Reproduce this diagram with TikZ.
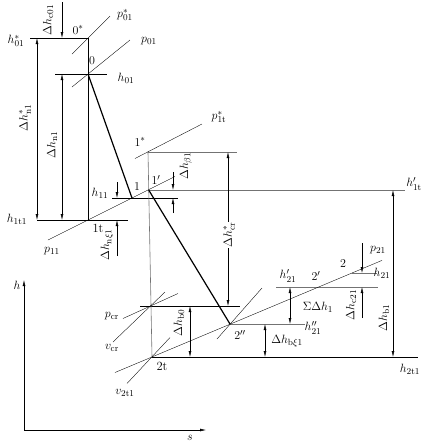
\documentclass[tikz,border=0pt]{standalone}
\usepackage{amsmath,amssymb}
\usepackage{tikz}
\usetikzlibrary{arrows.meta}

\begin{document}
\begin{tikzpicture}[
  x=1pt, y=-1pt,
  every node/.style={font=\fontsize{12.5}{14}\selectfont, inner sep=1pt},
  proc/.style={line width=1.2pt},
  ln/.style={line width=0.45pt},
  gl/.style={line width=0.6pt, black!55},
  iso/.style={line width=0.35pt},
  dim/.style={line width=0.45pt, -{Latex[length=6pt,width=2.8pt]}},
  dimb/.style={line width=0.45pt, {Latex[length=6pt,width=2.8pt]}-{Latex[length=6pt,width=2.8pt]}},
  vlbl/.style={rotate=90}
]
  \useasboundingbox (0,0) rectangle (434,445);

  \coordinate (p0s) at (88,38);
  \coordinate (p0) at (88,74);
  \coordinate (p1t) at (88,220);
  \coordinate (p1) at (132,198);
  \coordinate (p1p) at (148.7,190);
  \coordinate (p1s) at (148,152);
  \coordinate (pcr) at (151,306);
  \coordinate (p2t) at (152,357);
  \coordinate (p2pp) at (230,324);
  \coordinate (p2p) at (318.7,287);
  \coordinate (p2) at (352,273);

  \coordinate (cA) at (37,0);
  \coordinate (cB) at (62,0);
  \coordinate (cC) at (117,0);
  \coordinate (cD) at (173,0);
  \coordinate (cE) at (228,0);
  \coordinate (cF) at (190,0);
  \coordinate (cG) at (265,0);
  \coordinate (cH) at (290,0);
  \coordinate (cI) at (362,0);
  \coordinate (cJ) at (393,0);

  \coordinate (mTop) at (0,2);
  \coordinate (m11) at (0,182);
  \coordinate (mnx) at (0,256);
  \coordinate (mb1) at (0,172);
  \coordinate (mb2) at (0,213);
  \coordinate (m21) at (0,243);
  \coordinate (mc21) at (0,318);

  \coordinate (h01sL) at (30,38);
  \coordinate (h01L) at (55,74);
  \coordinate (h01R) at (107,74);
  \coordinate (h1tL) at (37,220);
  \coordinate (h1tR) at (128,220);
  \coordinate (h11L) at (112,198);
  \coordinate (h11R) at (178,198);
  \coordinate (h1sR) at (237,152);
  \coordinate (h1pR) at (405,190);
  \coordinate (hcrL) at (140,306);
  \coordinate (hcrR) at (240,306);
  \coordinate (h2tR) at (418,357);
  \coordinate (h2ppR) at (305,324);
  \coordinate (h2pL) at (276,287);
  \coordinate (h2pR) at (378,287);
  \coordinate (h2R) at (377,273);

  \coordinate (i01sA) at (72,54);
  \coordinate (i01sB) at (110,16);
  \coordinate (i01A) at (72,87);
  \coordinate (i01B) at (130,40);
  \coordinate (i11A) at (48,240);
  \coordinate (i11B) at (175,176.5);
  \coordinate (i1tsA) at (135,158.5);
  \coordinate (i1tsB) at (202,124);
  \coordinate (icrA) at (123,318.5);
  \coordinate (icrB) at (178,293.5);
  \coordinate (vcrA) at (113,342);
  \coordinate (vcrB) at (165,292);
  \coordinate (i21A) at (115,372.5);
  \coordinate (i21B) at (382,260.4);
  \coordinate (v2tA) at (127,383.5);
  \coordinate (v2tB) at (170,337.5);
  \coordinate (v2ppA) at (217,339);
  \coordinate (v2ppB) at (262,288);

  \coordinate (ax0) at (24,430);
  \coordinate (axH) at (24,280);
  \coordinate (axS) at (206,430);

  \draw[ln] (h01sL) -- (p0s);
  \draw[ln] (h01L) -- (h01R);
  \draw[ln] (h1tL) -- (h1tR);
  \draw[ln] (h11L) -- (h11R);
  \draw[gl] (p1s) -- (h1sR);
  \draw[gl] (p1p) -- (h1pR);
  \draw[ln] (hcrL) -- (hcrR);
  \draw[line width=0.8pt] (p2t) -- (h2tR);
  \draw[gl] (p2pp) -- (h2ppR);
  \draw[gl] (h2pL) -- (h2pR);
  \draw[gl] (p2) -- (h2R);

  \draw[ln] (p0s) -- (p1t);
  \draw[gl] (p1s) -- (p2t);

  \draw[iso] (i01sA) -- (i01sB);
  \draw[iso] (i01A) -- (i01B);
  \draw[iso] (i11A) -- (i11B);
  \draw[iso] (i1tsA) -- (i1tsB);
  \draw[iso] (icrA) -- (icrB);
  \draw[iso] (vcrA) -- (vcrB);
  \draw[iso] (i21A) -- (i21B);
  \draw[iso] (v2tA) -- (v2tB);
  \draw[iso] (v2ppA) -- (v2ppB);

  \draw[proc] (p0) -- (p1);
  \draw[proc] (p1p) -- (p2pp);

  \draw[dim] (cB |- mTop) -- (cB |- p0s);
  \draw[dimb] (cA |- p0s) -- (cA |- p1t);
  \draw[dimb] (cB |- p0) -- (cB |- p1t);
  \draw[dim] (cC |- m11) -- (cC |- p1);
  \draw[dim] (cC |- mnx) -- (cC |- p1t);
  \draw[dim] (cD |- mb1) -- (cD |- p1p);
  \draw[dim] (cD |- mb2) -- (cD |- p1);
  \draw[dimb] (cE |- p1s) -- (cE |- pcr);
  \draw[dimb] (cF |- pcr) -- (cF |- p2t);
  \draw[dimb] (cG |- p2pp) -- (cG |- p2t);
  \draw[dimb] (cH |- p2p) -- (cH |- p2pp);
  \draw[dim] (cI |- m21) -- (cI |- p2);
  \draw[dim] (cI |- mc21) -- (cI |- p2p);
  \draw[dimb] (cJ |- p1p) -- (cJ |- p2t);

  \draw[dim] (ax0) -- (axH);
  \draw[dim] (ax0) -- (axS);

  \node (tH01s) at (16,41) {$h^{*}_{01}$};
  \node[vlbl] (tDc01) at (48,20) {$\Delta h_{\mathrm{c01}}$};
  \node (t0s) at (78,30) {$0^{*}$};
  \node (tP01s) at (125,15) {$p^{*}_{01}$};
  \node (t0) at (92,61) {$0$};
  \node (tH01) at (126,78) {$h_{01}$};
  \node (tP01) at (149,41) {$p_{01}$};
  \node[vlbl] (tDn1s) at (25,118) {$\Delta h^{*}_{\mathrm{n1}}$};
  \node[vlbl] (tDn1) at (52,145) {$\Delta h_{\mathrm{n1}}$};
  \node (tH11) at (100,193) {$h_{11}$};
  \node (t1) at (137,187) {$1$};
  \node (t1p) at (156,180) {$1'$};
  \node (t1s) at (140,142) {$1^{*}$};
  \node (tP1ts) at (219,117) {$p^{*}_{\mathrm{1t}}$};
  \node[vlbl] (tDb1) at (186,166) {$\Delta h_{\beta 1}$};
  \node (tH1tp) at (414,184) {$h'_{\mathrm{1t}}$};
  \node (tH1t) at (17,219) {$h_{\mathrm{1t1}}$};
  \node (t1t) at (98,228) {1t};
  \node (tP11) at (52,251) {$p_{11}$};
  \node[vlbl] (tDnx) at (107,245) {$\Delta h_{\mathrm{n}\xi 1}$};
  \node[vlbl, fill=white, inner sep=0.5pt] (tDcr) at (229,235) {$\Delta h^{*}_{\mathrm{cr}}$};
  \node (tH) at (17,285) {$h$};
  \node (tPcr) at (112,316) {$p_{\mathrm{cr}}$};
  \node (tVcr) at (112,348) {$v_{\mathrm{cr}}$};
  \node (tV2t) at (125,393) {$v_{\mathrm{2t1}}$};
  \node[vlbl] (tDb0) at (179,323) {$\Delta h_{\mathrm{b0}}$};
  \node (t2t) at (162,366) {2t};
  \node (t2pp) at (240,335) {$2''$};
  \node (tDbx) at (287,341) {$\Delta h_{\mathrm{b}\xi 1}$};
  \node (tH21pp) at (313,328) {$h''_{21}$};
  \node (tSum) at (318,307) {$\Sigma\Delta h_{1}$};
  \node (tH21p) at (288,276) {$h'_{21}$};
  \node (t2p) at (316,276) {$2'$};
  \node (t2) at (343,264) {$2$};
  \node (tP21) at (378,250) {$p_{21}$};
  \node (tH21) at (382,273) {$h_{21}$};
  \node[vlbl] (tDc21) at (351,305) {$\Delta h_{\mathrm{c21}}$};
  \node[vlbl] (tDb1b) at (384,318) {$\Delta h_{\mathrm{b1}}$};
  \node (tH2t) at (410,369) {$h_{\mathrm{2t1}}$};
  \node (tS) at (190,438) {$s$};
\end{tikzpicture}
\end{document}
